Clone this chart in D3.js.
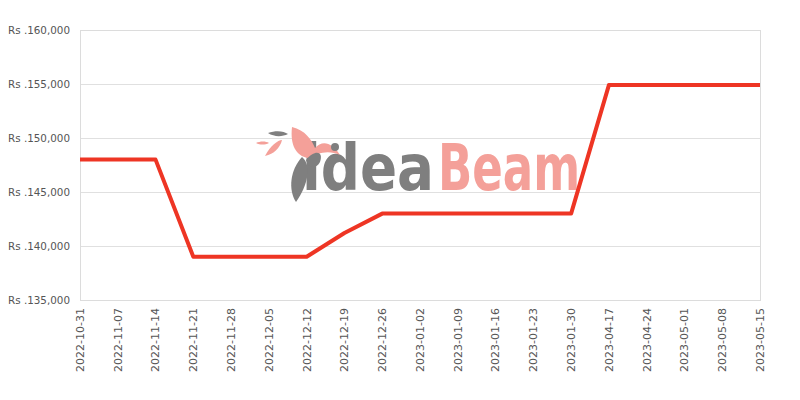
<!DOCTYPE html>
<html><head><meta charset="utf-8">
<script src="https://cdn.jsdelivr.net/npm/d3@7"></script>
<style>body{margin:0;background:#fff;}svg{display:block;font-family:"DejaVu Sans",sans-serif;}</style>
</head><body>
<svg id="c" width="800" height="400"></svg>
<script>
const dates = ["2022-10-31","2022-11-07","2022-11-14","2022-11-21","2022-11-28","2022-12-05","2022-12-12","2022-12-19","2022-12-26","2023-01-02","2023-01-09","2023-01-16","2023-01-23","2023-01-30","2023-04-17","2023-04-24","2023-05-01","2023-05-08","2023-05-15"];
const prices = [148000,148000,148000,139000,139000,139000,139000,141200,143000,143000,143000,143000,143000,143000,154900,154900,154900,154900,154900];
const yTicks = [135000,140000,145000,150000,155000,160000];

const svg = d3.select("#c");
const m = {l:80, r:40, t:30, b:100};
const W = 800, H = 400;
const x = d3.scalePoint().domain(dates).range([m.l, W - m.r]);
const y = d3.scaleLinear().domain([135000,160000]).range([H - m.b, m.t]);

// grid
svg.append("g").selectAll("line").data(yTicks).join("line")
  .attr("x1", m.l).attr("x2", W - m.r)
  .attr("y1", d => y(d)).attr("y2", d => y(d))
  .attr("stroke", "#e0e0e0").attr("stroke-width", 1).attr("shape-rendering","crispEdges");
svg.append("rect").attr("x", m.l).attr("y", m.t).attr("width", W - m.l - m.r).attr("height", H - m.t - m.b)
  .attr("fill","none").attr("stroke","#dcdcdc").attr("shape-rendering","crispEdges");

// watermark
const wm = svg.append("g");
const wf = "'DejaVu Sans Condensed','Liberation Sans Narrow',sans-serif";
wm.append("text").attr("x", 302).attr("y", 190).attr("font-family", wf).attr("font-weight","bold")
  .attr("font-size", 64).attr("fill", "#7f7f7f").attr("textLength", 132).attr("lengthAdjust","spacingAndGlyphs").text("idea");
wm.append("text").attr("x", 438).attr("y", 190).attr("font-family", wf).attr("font-weight","bold")
  .attr("font-size", 64).attr("fill", "#f4a099").attr("textLength", 142).attr("lengthAdjust","spacingAndGlyphs").text("Beam");
// bird
wm.append("path").attr("d","M292,127 C305,130 312,140 315,148 C322,140 332,142 340,155 C330,150 318,152 308,158 C296,156 290,145 292,127 Z").attr("fill","#f4a099");
wm.append("path").attr("d","M302,157 C312,165 308,185 296,202 C288,190 290,170 302,157 Z").attr("fill","#7f7f7f");
wm.append("path").attr("d","M306,160 C314,150 324,150 320,162 C316,170 308,168 306,160 Z").attr("fill","#7f7f7f");
wm.append("path").attr("d","M268,133 C276,130 284,131 288,134 C282,137 274,137 268,133 Z").attr("fill","#7f7f7f");
wm.append("path").attr("d","M265,156 C270,146 278,140 282,140 C280,148 274,154 265,156 Z").attr("fill","#f4a099");
wm.append("path").attr("d","M256,143 C260,141 266,141 269,143 C265,145 260,145 256,143 Z").attr("fill","#f4a099");
wm.append("circle").attr("cx",335).attr("cy",147).attr("r",4).attr("fill","#7f7f7f");

// y labels
svg.append("g").selectAll("text").data(yTicks).join("text")
  .attr("x", 70).attr("y", d => y(d)).attr("dy","0.35em").attr("text-anchor","end")
  .attr("font-size", 11).attr("fill", "#555").attr("textLength", 62).attr("lengthAdjust","spacingAndGlyphs")
  .text(d => "Rs ." + d3.format(",")(d));

// x labels
svg.append("g").selectAll("text").data(dates).join("text")
  .attr("transform", d => `translate(${x(d)},${H - m.b + 8}) rotate(-90)`)
  .attr("dy","0.35em").attr("text-anchor","end")
  .attr("font-size", 11).attr("fill", "#555").text(d => d);

// line
svg.append("path").datum(dates.map((d,i)=>[d, prices[i]]))
  .attr("d", d3.line().x(d => x(d[0])).y(d => y(d[1])))
  .attr("fill","none").attr("stroke","#ee3524").attr("stroke-width", 4).attr("stroke-linejoin","round");
</script>
</body></html>
